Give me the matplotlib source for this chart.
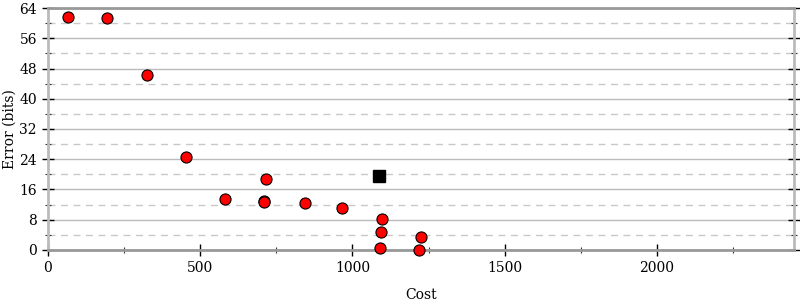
import matplotlib
matplotlib.use("Agg")
import matplotlib.pyplot as plt
from matplotlib.ticker import MultipleLocator

plt.rcParams['font.family'] = ['DejaVu Serif']

# points
cost = [66, 194, 325, 453, 581, 709, 711, 717, 844, 965, 1098, 1094, 1090, 1225, 1218]
error = [61.6, 61.4, 46.2, 24.6, 13.5, 12.9, 12.6, 18.9, 12.4, 11.1, 8.2, 4.8, 0.4, 3.4, 0.1]

ref_cost = [1087]
ref_error = [19.6]

fig = plt.figure(figsize=(8, 3), dpi=100)
ax = fig.add_axes([0.06, 0.1667, 0.9325, 0.8066])

ax.set_xlim(0, 2450)
ax.set_ylim(0, 64)
ax.xaxis.set_major_locator(MultipleLocator(500))
ax.xaxis.set_minor_locator(MultipleLocator(250))
ax.yaxis.set_major_locator(MultipleLocator(8))
ax.yaxis.set_minor_locator(MultipleLocator(4))

ax.grid(True, which='major', axis='y', color='#bbbbbb', lw=1, ls='-')
ax.grid(True, which='minor', axis='y', color='#c8c8c8', lw=1, ls=(0, (5, 4)))
ax.set_axisbelow(True)

for side in ['left', 'right']:
    ax.spines[side].set_color('#bbbbbb')
    ax.spines[side].set_linewidth(2)
for side in ['top', 'bottom']:
    ax.spines[side].set_color('#999999')
    ax.spines[side].set_linewidth(2)

ax.tick_params(which='major', direction='inout', length=9, width=1, color='black',
               labelsize=10, right=True, top=False)
ax.tick_params(which='minor', direction='inout', length=5, width=0.8, color='#333333',
               right=True, top=False)

ax.plot(cost, error, 'o', color='red', mec='black', mew=0.8, ms=8, clip_on=False, zorder=3)
ax.plot(ref_cost, ref_error, 's', color='black', ms=8, clip_on=False, zorder=3)

ax.set_xlabel('Cost', fontsize=10, labelpad=9)
ax.set_ylabel('Error (bits)', fontsize=10, labelpad=2)

fig.savefig('out.png', dpi=100)
